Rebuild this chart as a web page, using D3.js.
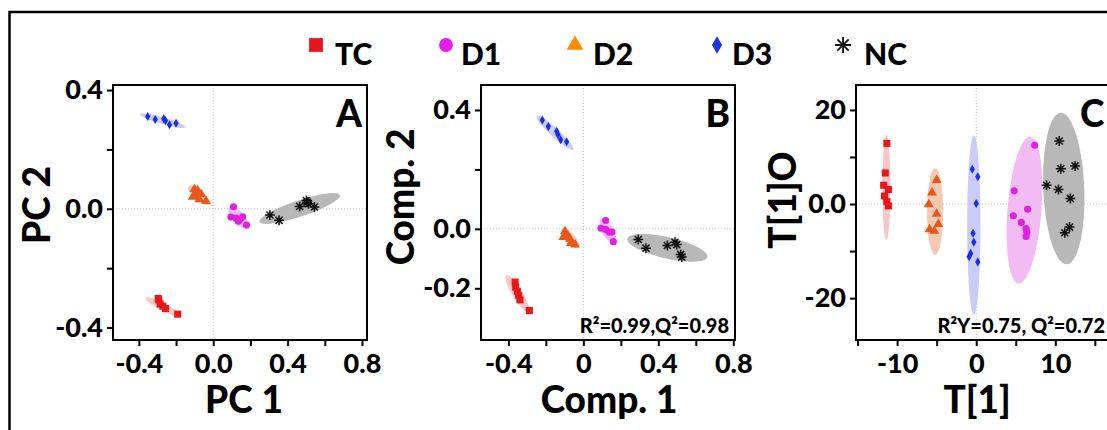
<!DOCTYPE html>
<html>
<head>
<meta charset="utf-8">
<script src="https://cdn.jsdelivr.net/npm/d3@7"></script>
<style>
  body { margin: 0; background: #fff; }
  svg { display: block; font-family: Lato, "Open Sans", sans-serif; font-weight: 900; }
</style>
</head>
<body>
<svg id="chart" width="1107" height="430"></svg>
<script>
// groups shown in the legend
const groups = ["TC", "D1", "D2", "D3", "NC"];
const pointColors = ["#e81818", "#e020e0", "#e8561a", "#1a2fe0", "#111111"];
const legendColors = ["#e8141e", "#e61ee6", "#ff8a00", "#1a35e8", "#111111"];
const ellipseColors = ["#f6c0c0", "#f2b4f2", "#f4c2aa", "#c2c6f6", "#b0b0b0"];

// A: PCA scores [group, PC1, PC2]
const pcaScores = [
  ["TC", -0.296, -0.302], ["TC", -0.293, -0.307], ["TC", -0.285, -0.321], ["TC", -0.271, -0.328], ["TC", -0.257, -0.336], ["TC", -0.191, -0.355],
  ["D1", 0.109, 0.007], ["D1", 0.095, -0.028], ["D1", 0.122, -0.031], ["D1", 0.143, -0.036], ["D1", 0.158, -0.027], ["D1", 0.135, -0.042], ["D1", 0.179, -0.055],
  ["D2", -0.101, 0.066], ["D2", -0.084, 0.062], ["D2", -0.092, 0.046], ["D2", -0.065, 0.049], ["D2", -0.075, 0.032], ["D2", -0.039, 0.026], ["D2", -0.110, 0.040],
  ["D3", -0.352, 0.311], ["D3", -0.312, 0.301], ["D3", -0.266, 0.303], ["D3", -0.257, 0.297], ["D3", -0.235, 0.283], ["D3", -0.200, 0.288],
  ["NC", 0.305, -0.021], ["NC", 0.354, -0.039], ["NC", 0.465, 0.008], ["NC", 0.501, 0.028], ["NC", 0.512, 0.017], ["NC", 0.544, 0.006], ["NC", 0.505, 0.022]
];
// confidence ellipses [group, centre x, centre y, half major dx, half major dy, minor/major]
const pcaEllipses = [
  ["TC", -0.271, -0.330, 0.093, -0.030, 0.2],
  ["D1", 0.136, -0.030, 0.048, -0.034, 0.45],
  ["D2", -0.075, 0.045, 0.058, -0.030, 0.35],
  ["D3", -0.272, 0.297, 0.121, -0.022, 0.15],
  ["NC", 0.465, 0.001, 0.216, 0.045, 0.19]
];
const pcaXTicks = [-0.4, -0.2, 0, 0.2, 0.4, 0.6, 0.8];
const pcaXLabels = ["-0.4", "", "0.0", "", "0.4", "", "0.8"];
const pcaYTicks = [-0.4, -0.2, 0, 0.2, 0.4];
const pcaYLabels = ["-0.4", "", "0.0", "", "0.4"];

// B: PLS-DA scores [group, Comp.1, Comp.2]
const plsScores = [
  ["TC", -0.364, -0.179], ["TC", -0.361, -0.196], ["TC", -0.352, -0.210], ["TC", -0.345, -0.224], ["TC", -0.338, -0.239], ["TC", -0.288, -0.275],
  ["D1", 0.119, 0.028], ["D1", 0.094, 0.002], ["D1", 0.119, -0.002], ["D1", 0.137, -0.011], ["D1", 0.153, -0.011], ["D1", 0.160, -0.043],
  ["D2", -0.098, -0.009], ["D2", -0.083, -0.023], ["D2", -0.107, -0.028], ["D2", -0.071, -0.034], ["D2", -0.044, -0.053], ["D2", -0.067, -0.048],
  ["D3", -0.219, 0.366], ["D3", -0.187, 0.344], ["D3", -0.142, 0.328], ["D3", -0.135, 0.317], ["D3", -0.121, 0.300], ["D3", -0.089, 0.293],
  ["NC", 0.293, -0.036], ["NC", 0.334, -0.065], ["NC", 0.448, -0.056], ["NC", 0.489, -0.045], ["NC", 0.498, -0.053], ["NC", 0.519, -0.086], ["NC", 0.525, -0.095]
];
const plsEllipses = [
  ["TC", -0.352, -0.218, 0.059, -0.062, 0.23],
  ["D1", 0.130, -0.006, 0.035, -0.039, 0.45],
  ["D2", -0.071, -0.031, 0.043, -0.031, 0.4],
  ["D3", -0.151, 0.323, 0.098, -0.057, 0.17],
  ["NC", 0.448, -0.064, 0.213, -0.031, 0.26]
];
const plsXTicks = [-0.4, -0.2, 0, 0.2, 0.4, 0.6, 0.8];
const plsXLabels = ["-0.4", "", "0", "", "0.4", "", "0.8"];
const plsYTicks = [-0.2, 0, 0.2, 0.4];
const plsYLabels = ["-0.2", "0.0", "", "0.4"];

// C: OPLS-DA scores [group, T[1], T[1]O]
const oplsScores = [
  ["TC", -11.3, 12.9], ["TC", -11.5, 6.6], ["TC", -11.7, 4.0], ["TC", -11.1, 3.1], ["TC", -11.6, 1.7], ["TC", -11.3, 0.5], ["TC", -11.1, -0.4],
  ["D1", 7.4, 12.5], ["D1", 4.8, 2.8], ["D1", 6.5, -1.1], ["D1", 4.7, -2.5], ["D1", 5.7, -3.9], ["D1", 6.3, -5.2], ["D1", 6.4, -6.0], ["D1", 6.3, -6.9],
  ["D2", -5.0, 5.1], ["D2", -5.6, 2.4], ["D2", -6.0, -0.1], ["D2", -5.0, -2.1], ["D2", -4.8, -4.3], ["D2", -5.9, -5.4], ["D2", -5.3, -5.7],
  ["D3", -0.5, 7.4], ["D3", 0.2, 5.8], ["D3", 0.0, 0.1], ["D3", -0.4, -6.2], ["D3", -0.3, -8.1], ["D3", -0.7, -10.5], ["D3", -0.9, -11.2], ["D3", 0.2, -12.3],
  ["NC", 10.5, 13.4], ["NC", 10.7, 7.5], ["NC", 12.5, 8.1], ["NC", 8.9, 4.0], ["NC", 10.4, 3.1], ["NC", 11.9, 1.2], ["NC", 11.8, -4.9], ["NC", 11.2, -6.1]
];
const oplsEllipses = [
  ["TC", -11.36, 3.55, 0, 11.15, 0.076],
  ["D1", 6.1, -1.3, 0.74, 15.6, 0.23],
  ["D2", -5.2, -1.6, 0, 9.2, 0.185],
  ["D3", -0.3, -4.46, 0, 19.1, 0.074],
  ["NC", 11.07, 3.3, -0.38, 16.1, 0.27]
];
const oplsXTicks = [-15, -10, -5, 0, 5, 10, 15];
const oplsXLabels = ["", "-10", "", "0", "", "10", ""];
const oplsYTicks = [-20, -10, 0, 10, 20];
const oplsYLabels = ["-20", "", "0.0", "", "20"];

const svg = d3.select("#chart");
const colorOf = d3.scaleOrdinal(groups, pointColors);
const fillOf = d3.scaleOrdinal(groups, ellipseColors);
const symbolTypes = { TC: d3.symbolSquare, D1: d3.symbolCircle, D2: d3.symbolTriangle, D3: d3.symbolDiamond };

// outer figure frame, runs off the right and bottom
svg.append("rect")
  .attr("x", 9.5).attr("y", 12).attr("width", 1200).attr("height", 500)
  .attr("fill", "none").attr("stroke", "#000").attr("stroke-width", 2.5);

function asterisk(r) {
  const d = r * Math.SQRT1_2;
  return `M${-r},0L${r},0M0,${-r}L0,${r}M${-d},${-d}L${d},${d}M${-d},${d}L${d},${-d}`;
}

function marker(sel, g) {
  if (g === "NC") {
    sel.append("path").attr("d", asterisk(5))
      .attr("fill", "none").attr("stroke", "#111").attr("stroke-width", 1.5);
    return;
  }
  const sizes = { TC: 50, D1: 40, D2: 42, D3: 24 };
  sel.append("path")
    .attr("d", d3.symbol(symbolTypes[g], sizes[g])())
    .attr("fill", colorOf(g));
}

function panel(p) {
  const x = d3.scaleLinear().domain(p.xDomain).range([p.left, p.right]);
  const y = d3.scaleLinear().domain(p.yDomain).range([p.bottom, p.top]);
  const g = svg.append("g");

  // zero grid lines
  g.append("line").attr("x1", x(0)).attr("x2", x(0)).attr("y1", p.top).attr("y2", p.bottom)
    .attr("stroke", "#c4c4c4").attr("stroke-dasharray", "1,2");
  g.append("line").attr("x1", p.left).attr("x2", p.right).attr("y1", y(0)).attr("y2", y(0))
    .attr("stroke", "#c4c4c4").attr("stroke-dasharray", "1,2");

  // ellipses
  const line = d3.line().curve(d3.curveLinearClosed);
  g.selectAll(".ell").data(p.ellipses).enter().append("path")
    .attr("d", e => {
      const cx = x(e[1]), cy = y(e[2]);
      const ux = x(e[1] + e[3]) - cx, uy = y(e[2] + e[4]) - cy;
      const vx = -uy * e[5], vy = ux * e[5];
      return line(d3.range(72).map(i => {
        const t = i / 72 * 2 * Math.PI;
        return [cx + Math.cos(t) * ux + Math.sin(t) * vx, cy + Math.cos(t) * uy + Math.sin(t) * vy];
      }));
    })
    .attr("fill", e => fillOf(e[0]))
    .attr("opacity", 0.9);

  // points
  g.selectAll(".pt").data(p.points).enter().append("g")
    .attr("transform", d => `translate(${x(d[1])},${y(d[2])})`)
    .each(function(d) { marker(d3.select(this), d[0]); });

  // box
  g.append("rect")
    .attr("x", p.left).attr("y", p.top)
    .attr("width", p.right - p.left).attr("height", p.bottom - p.top)
    .attr("fill", "none").attr("stroke", "#000").attr("stroke-width", 2);

  const xAxis = g.append("g")
    .attr("transform", `translate(0,${p.bottom})`)
    .call(d3.axisBottom(x).tickValues(p.xTicks).tickSize(6).tickPadding(8)
      .tickFormat((d, i) => p.xLabels[i]));
  const yAxis = g.append("g")
    .attr("transform", `translate(${p.left},0)`)
    .call(d3.axisLeft(y).tickValues(p.yTicks).tickSize(6).tickPadding(4)
      .tickFormat((d, i) => p.yLabels[i]));
  [xAxis, yAxis].forEach(a => {
    a.select(".domain").remove();
    a.selectAll("line").attr("stroke", "#000").attr("stroke-width", 2);
    a.selectAll("text").attr("fill", "#000").style("font-size", "27px")
      .style("font-family", "Lato, sans-serif").style("font-weight", 900);
  });

  // axis titles
  g.append("text").attr("x", p.xTitleX).attr("y", 413)
    .attr("text-anchor", "middle").style("font-size", "37px").text(p.xTitle);
  g.append("text")
    .attr("transform", `translate(${p.yTitleX},${p.yTitleY}) rotate(-90)`)
    .attr("text-anchor", "middle").style("font-size", "37px").text(p.yTitle);

  // panel letter
  g.append("text").attr("x", p.letterX).attr("y", 127)
    .attr("text-anchor", p.letterAnchor).style("font-size", "37px").text(p.letter);

  if (p.stats) {
    g.append("text").attr("x", p.statsX).attr("y", 333)
      .attr("text-anchor", "end").style("font-size", "20px").text(p.stats);
  }
}

panel({
  left: 113, right: 367, top: 85, bottom: 340,
  xDomain: [-0.539, 0.827], yDomain: [-0.442, 0.417],
  points: pcaScores, ellipses: pcaEllipses,
  xTicks: pcaXTicks, xLabels: pcaXLabels, yTicks: pcaYTicks, yLabels: pcaYLabels,
  xTitle: "PC 1", xTitleX: 244, yTitle: "PC 2", yTitleX: 50, yTitleY: 205,
  letter: "A", letterX: 362, letterAnchor: "end"
});
panel({
  left: 481, right: 735, top: 85, bottom: 340,
  xDomain: [-0.546, 0.809], yDomain: [-0.374, 0.484],
  points: plsScores, ellipses: plsEllipses,
  xTicks: plsXTicks, xLabels: plsXLabels, yTicks: plsYTicks, yLabels: plsYLabels,
  xTitle: "Comp. 1", xTitleX: 609, yTitle: "Comp. 2", yTitleX: 414, yTitleY: 197,
  letter: "B", letterX: 730, letterAnchor: "end",
  stats: "R²=0.99,Q²=0.98", statsX: 729
});
panel({
  left: 856, right: 1112, top: 85, bottom: 340,
  xDomain: [-15.2, 17.17], yDomain: [-28.9, 25.3],
  points: oplsScores, ellipses: oplsEllipses,
  xTicks: oplsXTicks, xLabels: oplsXLabels, yTicks: oplsYTicks, yLabels: oplsYLabels,
  xTitle: "T[1]", xTitleX: 977, yTitle: "T[1]O", yTitleX: 796, yTitleY: 200,
  letter: "C", letterX: 1080, letterAnchor: "start",
  stats: "R²Y=0.75, Q²=0.72", statsX: 1105
});

// legend
const legendMarkX = [316, 446, 575, 717, 843];
const legendTextX = [335, 461, 593, 732, 864];
const legend = svg.append("g");
groups.forEach((grp, i) => {
  const m = legend.append("g").attr("transform", `translate(${legendMarkX[i]},45)`);
  if (grp === "NC") {
    m.append("path").attr("d", asterisk(8)).attr("fill", "none")
      .attr("stroke", "#111").attr("stroke-width", 1.8);
  } else {
    const sizes = { TC: 190, D1: 150, D2: 120, D3: 90 };
    m.append("path").attr("d", d3.symbol(symbolTypes[grp], sizes[grp])()).attr("fill", legendColors[i]);
  }
  legend.append("text").attr("x", legendTextX[i]).attr("y", 65)
    .style("font-size", "30px").text(grp);
});
</script>
</body>
</html>
